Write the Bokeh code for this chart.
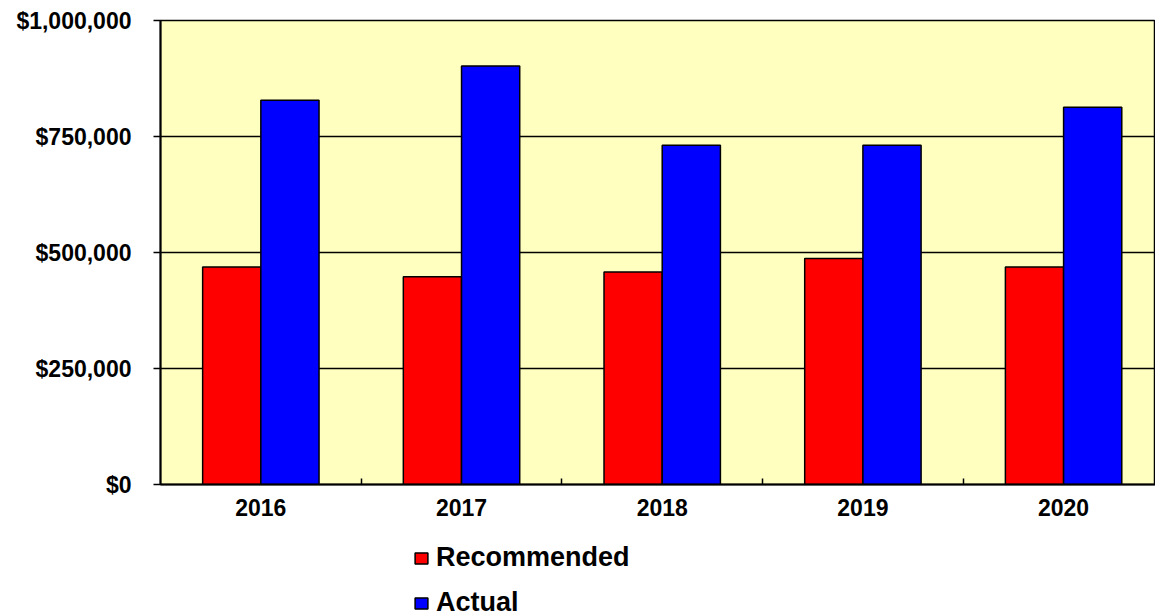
from bokeh.plotting import figure
from bokeh.layouts import column
from bokeh.models import ColumnDataSource, Range1d, FixedTicker, NumeralTickFormatter, Legend, LegendItem
from bokeh.transform import dodge
from bokeh.embed import file_html
from bokeh.resources import INLINE

years = ["2016", "2017", "2018", "2019", "2020"]
recommended = [469000, 448000, 458000, 487000, 469000]
actual = [828000, 902000, 731000, 731000, 813000]
y_ticks = [0, 250000, 500000, 750000, 1000000]
series_names = ["Recommended", "Actual"]
series_colors = ["#FF0000", "#0000FF"]

pos = [i + 0.5 for i in range(len(years))]
src = ColumnDataSource(dict(x=pos, rec=recommended, act=actual))

FONT = "Liberation Sans"

p = figure(width=1155, height=526, output_backend="svg", toolbar_location=None,
           x_range=Range1d(0, 4.958), y_range=Range1d(0, 1000000),
           min_border_left=160, min_border_right=0, min_border_top=20, min_border_bottom=42)
p.background_fill_color = "#FFFFC0"
p.border_fill_color = "white"
p.outline_line_color = "black"
p.outline_line_width = 1.5

p.vbar(x=dodge("x", -0.145), top="rec", width=0.29, source=src,
       fill_color=series_colors[0], line_color="black", line_width=1.5)
p.vbar(x=dodge("x", 0.145), top="act", width=0.29, source=src,
       fill_color=series_colors[1], line_color="black", line_width=1.5)

# x axis
p.xaxis.ticker = FixedTicker(ticks=pos, minor_ticks=[1, 2, 3, 4])
p.xaxis.major_label_overrides = {x: y for x, y in zip(pos, years)}
p.xaxis.major_tick_in = 0
p.xaxis.major_tick_out = 0
p.xaxis.minor_tick_in = 6
p.xaxis.minor_tick_out = 0
p.xaxis.minor_tick_line_color = "black"
p.xaxis.minor_tick_line_width = 1.5
p.xaxis.axis_line_width = 2
p.xaxis.axis_line_color = "black"
p.xaxis.major_label_text_font = FONT
p.xaxis.major_label_text_font_style = "bold"
p.xaxis.major_label_text_font_size = "23px"
p.xaxis.major_label_text_color = "black"
p.xaxis.major_label_standoff = 14

# y axis
p.yaxis.ticker = FixedTicker(ticks=y_ticks, minor_ticks=[])
p.yaxis.formatter = NumeralTickFormatter(format="$0,0")
p.yaxis.major_tick_in = 0
p.yaxis.major_tick_out = 7
p.yaxis.major_tick_line_width = 1.5
p.yaxis.major_tick_line_color = "black"
p.yaxis.axis_line_width = 2
p.yaxis.axis_line_color = "black"
p.yaxis.major_label_text_font = FONT
p.yaxis.major_label_text_font_style = "bold"
p.yaxis.major_label_text_font_size = "23px"
p.yaxis.major_label_text_color = "black"
p.yaxis.major_label_standoff = 22

p.xgrid.visible = False
p.ygrid.grid_line_color = "black"
p.ygrid.grid_line_width = 1.5

# legend panel (its bar renderers are hidden; only the legend shows)
p2 = figure(width=1155, height=90, output_backend="svg", toolbar_location=None,
            x_range=Range1d(100, 101), y_range=Range1d(5e6, 6e6),
            min_border_left=0, min_border_right=0, min_border_top=0, min_border_bottom=0)
p2.axis.visible = False
p2.grid.visible = False
p2.outline_line_color = None
p2.background_fill_color = "white"
items = []
for name, col, key in zip(series_names, series_colors, ["rec", "act"]):
    r = p2.vbar(x="x", top=key, width=0.29, source=src,
                fill_color=col, line_color="black", line_width=1.5)
    r.visible = False
    items.append(LegendItem(label=name, renderers=[r]))
lg = Legend(items=items)
lg.location = (253, -2)
lg.orientation = "vertical"
lg.padding = 0
lg.margin = 0
lg.border_line_color = None
lg.background_fill_alpha = 0
lg.inactive_fill_alpha = 0
lg.glyph_width = 16
lg.glyph_height = 14
lg.label_standoff = 7
lg.spacing = 14
lg.label_text_font = FONT
lg.label_text_font_style = "bold"
lg.label_text_font_size = "27px"
lg.label_text_color = "black"
p2.add_layout(lg, "center")

layout = column(p, p2, spacing=0)
open("out.html", "w").write(file_html(layout, INLINE))
